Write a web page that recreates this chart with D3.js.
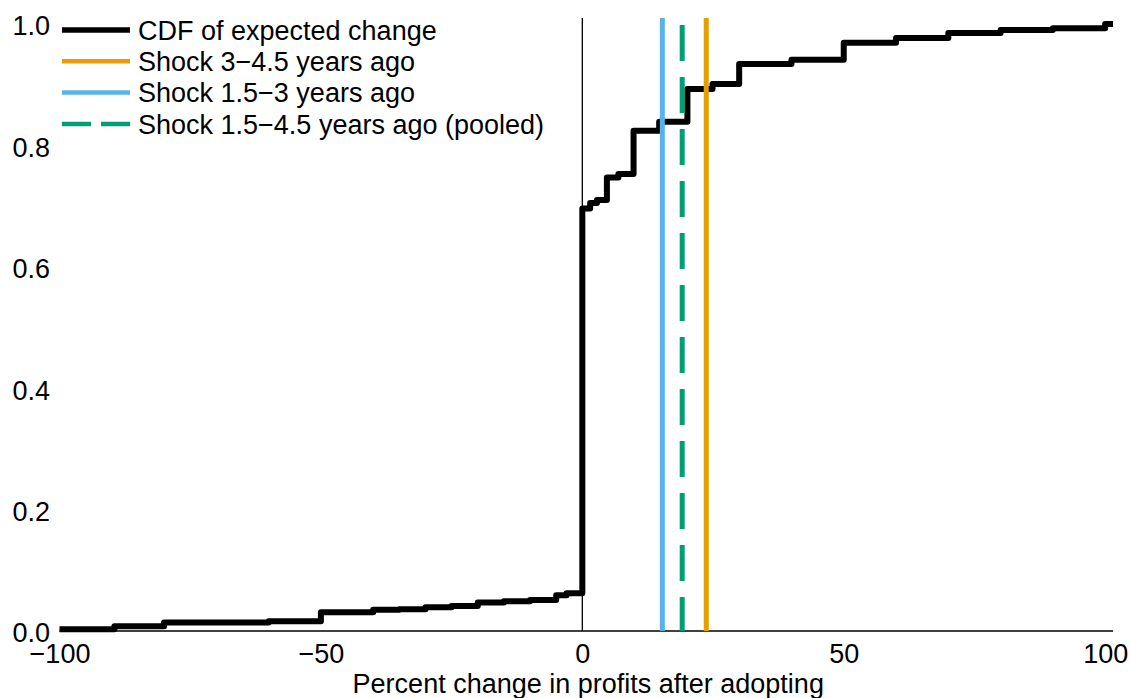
<!DOCTYPE html>
<html>
<head>
<meta charset="utf-8">
<script src="https://cdn.jsdelivr.net/npm/d3@7"></script>
<style>
  html, body { margin: 0; padding: 0; background: #fff; }
  svg { display: block; font-family: "Liberation Sans", Arial, Helvetica, sans-serif; }
</style>
</head>
<body>
<svg id="chart" width="1130" height="698"></svg>
<script>
// Step positions (percent change) and the cumulative share reached at each step
const cdfX = [-100, -89.5, -80, -60, -50, -40, -35, -30, -25, -20, -15, -10, -5, -3,
              0, 1.5, 2.8, 4.7, 6.9, 9.8, 14.7, 20.1, 24.9, 30, 40, 50, 60, 70, 80, 90, 100, 101.5];
const cdfY = [0.003, 0.008, 0.014, 0.016, 0.031, 0.035, 0.036, 0.039, 0.041, 0.047, 0.049, 0.051, 0.059, 0.062,
              0.696, 0.705, 0.710, 0.747, 0.753, 0.824, 0.839, 0.893, 0.901, 0.934, 0.941, 0.969, 0.977, 0.985, 0.990, 0.993, 1.0, 1.0];

// Estimated effects of past shocks (percent change)
const shockNames  = ["Shock 3\u22124.5 years ago", "Shock 1.5\u22123 years ago", "Shock 1.5\u22124.5 years ago (pooled)"];
const shockValues = [23.7, 15.3, 19.1];
const shockColors = ["#E69F00", "#56B4E9", "#009E73"];
const shockDashed = [false, false, true];

const cdfName = "CDF of expected change";
const xTicks = [-100, -50, 0, 50, 100];
const yTicks = [0, 0.2, 0.4, 0.6, 0.8, 1.0];
const xTitle = "Percent change in profits after adopting";

const svg = d3.select("#chart");
const FONT = 27;

const x = d3.scaleLinear().domain([-100, 101.5]).range([59.5, 1113]);
const y = d3.scaleLinear().domain([0, 1]).range([631, 24]);
const yTop = 1.01;

// x axis (line + labels, no tick marks)
const xAxis = svg.append("g")
  .attr("transform", `translate(0,${y(0)})`)
  .call(d3.axisBottom(x).tickValues(xTicks).tickSize(0).tickPadding(13).tickFormat(d3.format("d")));
xAxis.select(".domain").attr("stroke", "#000").attr("stroke-width", 1.5).attr("d", `M${x(-100)},0H${x(101.5)}`);
xAxis.selectAll("text").attr("font-size", FONT).attr("fill", "#000").attr("font-family", null);

// y axis labels only
const yAxis = svg.append("g")
  .attr("transform", `translate(50,0)`)
  .call(d3.axisLeft(y).tickValues(yTicks).tickSize(0).tickPadding(0).tickFormat(d3.format(".1f")));
yAxis.select(".domain").remove();
yAxis.selectAll("text").attr("font-size", FONT).attr("fill", "#000").attr("font-family", null).attr("dy", "0.4em");

// axis title
svg.append("text")
  .attr("x", (x(-100) + x(101.5)) / 2 + 2)
  .attr("y", 693)
  .attr("text-anchor", "middle")
  .attr("font-size", FONT)
  .attr("fill", "#000")
  .text(xTitle);

// reference line at zero
svg.append("line")
  .attr("x1", x(0)).attr("x2", x(0))
  .attr("y1", y(0)).attr("y2", y(yTop))
  .attr("stroke", "#000").attr("stroke-width", 1.3);

// CDF step line
const cdfData = cdfX.map((v, i) => [v, cdfY[i]]);
svg.append("path")
  .datum(cdfData)
  .attr("fill", "none")
  .attr("stroke", "#000")
  .attr("stroke-width", 6)
  .attr("stroke-linejoin", "round")
  .attr("d", d3.line().x(d => x(d[0])).y(d => y(d[1])).curve(d3.curveStepAfter));

// shock estimates as vertical lines
shockValues.forEach((v, i) => {
  svg.append("line")
    .attr("x1", x(v)).attr("x2", x(v))
    .attr("y1", shockDashed[i] ? y(yTop) + 7 : y(yTop))
    .attr("y2", y(0))
    .attr("stroke", shockColors[i])
    .attr("stroke-width", 5)
    .attr("stroke-dasharray", shockDashed[i] ? "36,16" : null);
});

// legend
const legend = svg.append("g");
const items = [{name: cdfName, color: "#000", dashed: false, w: 5.5}]
  .concat(shockNames.map((n, i) => ({name: n, color: shockColors[i], dashed: shockDashed[i], w: 4.5})));
items.forEach((it, i) => {
  const cy = 30 + i * 31.3;
  legend.append("line")
    .attr("x1", 62).attr("x2", 130)
    .attr("y1", cy).attr("y2", cy)
    .attr("stroke", it.color)
    .attr("stroke-width", it.w)
    .attr("stroke-dasharray", it.dashed ? "29,10" : null);
  legend.append("text")
    .attr("x", 138).attr("y", cy)
    .attr("dy", "0.36em")
    .attr("font-size", FONT)
    .attr("fill", "#000")
    .text(it.name);
});
</script>
</body>
</html>
